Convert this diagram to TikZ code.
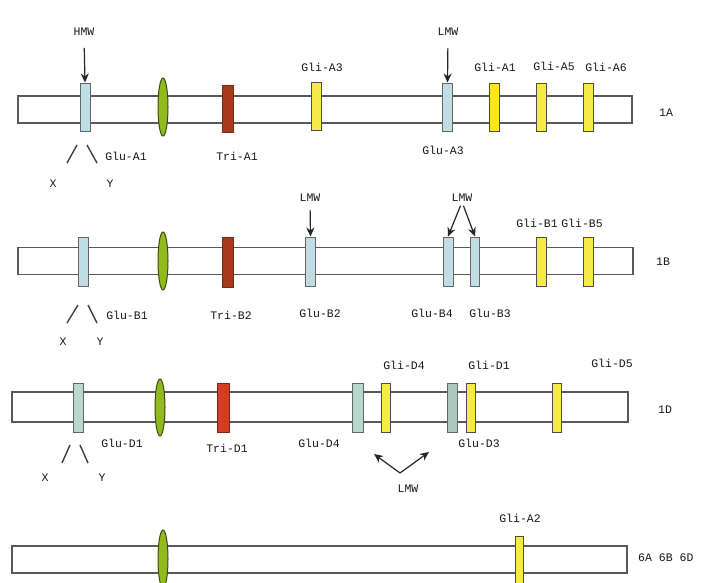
\documentclass[tikz,border=0pt]{standalone}
\usepackage{fontspec}
\setmainfont{Liberation Mono}
\usetikzlibrary{arrows.meta,shapes.geometric}
\definecolor{glublue}{HTML}{BFDDE3}
\definecolor{gluteal}{HTML}{B8D8CE}
\definecolor{gliyellow}{HTML}{F6E94A}
\definecolor{ellgreen}{HTML}{92BA1E}
\definecolor{ellline}{HTML}{3C4C12}
\definecolor{trired}{HTML}{A83A1C}
\definecolor{trired2}{HTML}{D63C22}
\begin{document}
\begin{tikzpicture}[x=1pt,y=-1pt,
  lbl/.style={font=\fontsize{11.5}{12}\selectfont, text=black!90, inner sep=0pt},
  chrom/.style={draw=black!65, fill=white, line width=1.2pt, inner sep=0pt, minimum height=27pt},
  genebox/.style={draw=black!60, line width=1pt, inner sep=0pt, minimum width=10pt, minimum height=48pt},
  glu/.style={genebox, fill=glublue},
  glud/.style={genebox, fill=gluteal},
  gli/.style={genebox, fill=gliyellow, draw=black!70},
  tri/.style={genebox, fill=trired, draw=trired!70!black, minimum width=11pt, minimum height=47pt},
  cen/.style={ellipse, draw=ellline, fill=ellgreen, line width=1pt, inner sep=0pt, minimum width=10pt, minimum height=58pt},
  arr/.style={-{Stealth[length=9pt,width=8pt]}, line width=1.2pt, black!85},
  slash/.style={line width=1.4pt, black!75}
]
\clip (0,0) rectangle (722,582);
\useasboundingbox (0,0) rectangle (722,582);
\fill[white] (0,0) rectangle (722,582);

% ---------- Row 1A ----------
\node[chrom, minimum width=614pt] (barA) at (325,109.5) {};
\node[glu] (gluA1) at (85,107) {};
\node[cen] (cenA) at (163,107) {};
\node[tri] (triA1) at (227.5,108.5) {};
\node[gli] (gliA3) at (316,106.5) {};
\node[glu] (gluA3) at (447.5,107) {};
\node[gli, fill=gliyellow!80!orange!60!yellow] (gliA1) at (494.5,107) {};
\node[gli] (gliA5) at (541.5,107) {};
\node[gli] (gliA6) at (588.5,107) {};
\node[lbl] (hmwA) at (84,32) {HMW};
\node[lbl] (lmwA) at (448,32) {LMW};
\draw[arr, shorten <=12pt] (hmwA.south) -- (gluA1.north);
\draw[arr, shorten <=12pt] (lmwA.south) -- (gluA3.north);
\node[lbl] (tgliA3) at (322,67) {Gli-A3};
\node[lbl] (tgliA1) at (495,67) {Gli-A1};
\node[lbl] (tgliA5) at (554,66) {Gli-A5};
\node[lbl] (tgliA6) at (606,67) {Gli-A6};
\node[lbl] (tgluA1) at (126,156) {Glu-A1};
\node[lbl] (ttriA1) at (237,156) {Tri-A1};
\node[lbl] (tgluA3) at (443,150) {Glu-A3};
\node[lbl] (t1A) at (666,113) {1A};
\node[lbl] (xA) at (53,184) {X};
\node[lbl] (yA) at (110,184) {Y};
\coordinate (sA1) at (67,163); \coordinate (sA2) at (77,145);
\coordinate (sA3) at (87,145); \coordinate (sA4) at (97,163);
\draw[slash] (sA1) -- (sA2);
\draw[slash] (sA3) -- (sA4);

% ---------- Row 1B ----------
\node[chrom, minimum width=615pt] (barB) at (325.5,261) {};
\node[glu, minimum height=49pt] (gluB1) at (83,261.5) {};
\node[cen] (cenB) at (163,261) {};
\node[tri, minimum height=50pt] (triB2) at (227.5,262) {};
\node[glu, minimum height=49pt] (gluB2) at (310.5,261.5) {};
\node[glu, minimum height=49pt] (gluB4) at (448,261.5) {};
\node[glu, minimum height=49pt, minimum width=9pt] (gluB3) at (475,261.5) {};
\node[gli, minimum height=49pt] (gliB1) at (541.5,261.5) {};
\node[gli, minimum height=49pt] (gliB5) at (588.5,261.5) {};
\node[lbl] (lmwB1) at (310,198) {LMW};
\node[lbl] (lmwB2) at (462,198) {LMW};
\draw[arr, shorten <=8pt] (lmwB1.south) -- (gluB2.north);
\draw[arr, shorten <=4pt] (lmwB2.south) -- (gluB4.north);
\draw[arr, shorten <=4pt] (lmwB2.south) -- (gluB3.north);
\node[lbl] (tgliB1) at (537,223) {Gli-B1};
\node[lbl] (tgliB5) at (582,223) {Gli-B5};
\node[lbl] (tgluB1) at (127,315) {Glu-B1};
\node[lbl] (ttriB2) at (231,315) {Tri-B2};
\node[lbl] (tgluB2) at (320,313) {Glu-B2};
\node[lbl] (tgluB4) at (432,313) {Glu-B4};
\node[lbl] (tgluB3) at (490,313) {Glu-B3};
\node[lbl] (t1B) at (663,262) {1B};
\node[lbl] (xB) at (63,342) {X};
\node[lbl] (yB) at (100,342) {Y};
\coordinate (sB1) at (67,323); \coordinate (sB2) at (78,305);
\coordinate (sB3) at (88,305); \coordinate (sB4) at (97,323);
\draw[slash] (sB1) -- (sB2);
\draw[slash] (sB3) -- (sB4);

% ---------- Row 1D ----------
\node[chrom, minimum width=616pt, minimum height=30pt] (barD) at (320,407) {};
\node[glud, minimum height=49pt] (gluD1) at (78,407.5) {};
\node[cen, minimum height=57pt] (cenD) at (160,407.5) {};
\node[tri, fill=trired2, minimum width=12pt, minimum height=49pt] (triD1) at (223,407.5) {};
\node[glud, minimum height=49pt, minimum width=11pt] (gluD4) at (357.5,407.5) {};
\node[gli, minimum height=49pt, minimum width=9pt] (gliD4) at (386,407.5) {};
\node[glud, fill=gluteal!80!gray, minimum height=49pt] (gluD3) at (452,407.5) {};
\node[gli, minimum height=49pt, minimum width=9pt] (gliD1) at (470.5,407.5) {};
\node[gli, minimum height=49pt, minimum width=9pt] (gliD5) at (556.5,407.5) {};
\node[lbl] (tgliD4) at (404,365) {Gli-D4};
\node[lbl] (tgliD1) at (489,365) {Gli-D1};
\node[lbl] (tgliD5) at (612,363) {Gli-D5};
\node[lbl] (tgluD1) at (122,443) {Glu-D1};
\node[lbl] (ttriD1) at (227,448) {Tri-D1};
\node[lbl] (tgluD4) at (319,443) {Glu-D4};
\node[lbl] (tgluD3) at (479,443) {Glu-D3};
\node[lbl] (t1D) at (665,410) {1D};
\node[lbl] (xD) at (45,478) {X};
\node[lbl] (yD) at (102,478) {Y};
\coordinate (sD1) at (62,463); \coordinate (sD2) at (70,445);
\coordinate (sD3) at (80,445); \coordinate (sD4) at (88,463);
\draw[slash] (sD1) -- (sD2);
\draw[slash] (sD3) -- (sD4);
\coordinate (lmwDv) at (400,473);
\coordinate (lmwDl) at (374,454);
\coordinate (lmwDr) at (429,452);
\node[lbl] (lmwD) at (408,489) {LMW};
\draw[arr] (lmwDv) -- (lmwDl);
\draw[arr] (lmwDv) -- (lmwDr);

% ---------- Row 6 ----------
\node[chrom, minimum width=615pt] (bar6) at (319.5,559.5) {};
\node[cen] (cen6) at (163,559) {};
\node[gli, minimum height=49pt, minimum width=8pt] (gliA2) at (519,560.5) {};
\node[lbl] (tgliA2) at (520,518) {Gli-A2};
\node[lbl, anchor=west] (t6) at (638,558) {6A 6B 6D};
\end{tikzpicture}
\end{document}
